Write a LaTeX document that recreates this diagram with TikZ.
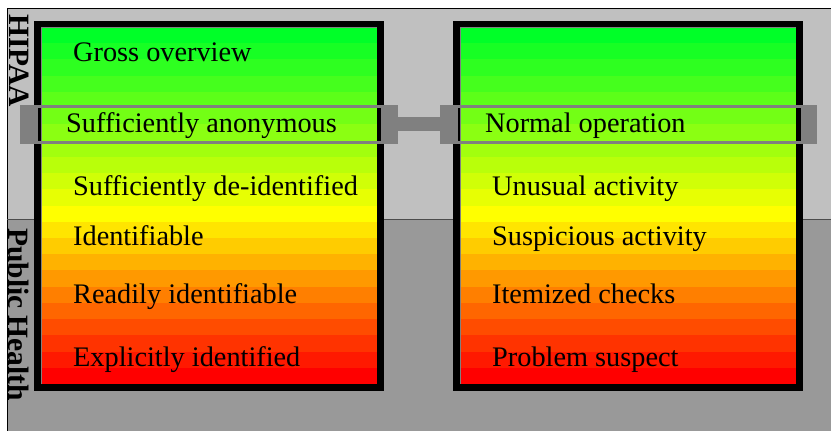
\documentclass[tikz,border=0pt]{standalone}
\usepackage{fontspec}
\setmainfont{Liberation Serif}
\definecolor{lightbg}{RGB}{192,192,192}
\definecolor{darkbg}{RGB}{153,153,153}
\definecolor{framegray}{RGB}{128,128,128}
\tikzset{
  lbl/.style={anchor=base west, inner sep=0pt, font=\fontsize{28.3}{33}\selectfont},
  side/.style={rotate=-90, anchor=west, inner sep=0pt, font=\fontsize{29.5}{34}\selectfont\bfseries}
}
\begin{document}
\begin{tikzpicture}[x=1pt,y=-1pt]
            \useasboundingbox (0,0) rectangle (831,431);
            \fill[lightbg] (7,8) rectangle (831,219);
            \fill[darkbg] (7,219) rectangle (831,431);
            \draw[line width=0.8pt] (7,431) -- (7,8) -- (831,8);
            \draw[line width=0.8pt, black!70] (7,219) -- (831,219);
            \node[side] (hipaa) at (19,14) {HIPAA};
            \node[side] (health) at (19,228) {Public Health};
            \foreach \x in {41,460} {
                \foreach \i in {0,...,11} {
                    \pgfmathtruncatemacro{\r}{255*\i/11}
                    \pgfmathtruncatemacro{\b}{40*(11-\i)/11}
                    \definecolor{stripe}{RGB}{\r,255,\b}
                    \fill[stripe] (\x,27+\i*16.23) rectangle (\x+336,27+\i*16.23+16.5);
                }
                \foreach \i in {12,...,21} {
                    \pgfmathtruncatemacro{\g}{255*(21-\i)/10}
                    \definecolor{stripe}{RGB}{255,\g,0}
                    \fill[stripe] (\x,27+\i*16.23) rectangle (\x+336,{min(27+\i*16.23+16.5,384)});
                }
                \draw[framegray, line width=1pt] (\x,27) rectangle (\x+336,384);
                \draw[line width=6.5pt] (\x-3.5,24) rectangle (\x+339.5,387.5);
            }
            \draw[framegray, line width=2.5pt] (37,106.5) rectangle (382,142.5);
            \draw[framegray, line width=2.5pt] (457,106.5) rectangle (802,142.5);
            \fill[framegray] (20,105.25) rectangle (37,143.75);
            \fill[framegray] (382,105.25) rectangle (398,143.75);
            \fill[framegray] (398,117) rectangle (440,131);
            \fill[framegray] (440,105.25) rectangle (457,143.75);
            \fill[framegray] (802,105.25) rectangle (817,143.75);
            \node[lbl] (lvl1) at (73,61) {Gross overview};
            \node[lbl] (lvl2) at (66,132) {Sufficiently anonymous};
            \node[lbl] (lvl3) at (73,195) {Sufficiently de-identified};
            \node[lbl] (lvl4) at (73,245) {Identifiable};
            \node[lbl] (lvl5) at (73,303) {Readily identifiable};
            \node[lbl] (lvl6) at (73,366) {Explicitly identified};
            \node[lbl] (mode2) at (485,132) {Normal operation};
            \node[lbl] (mode3) at (492,195) {Unusual activity};
            \node[lbl] (mode4) at (492,245) {Suspicious activity};
            \node[lbl] (mode5) at (492,303) {Itemized checks};
            \node[lbl] (mode6) at (492,366) {Problem suspect};
\end{tikzpicture}
\end{document}
